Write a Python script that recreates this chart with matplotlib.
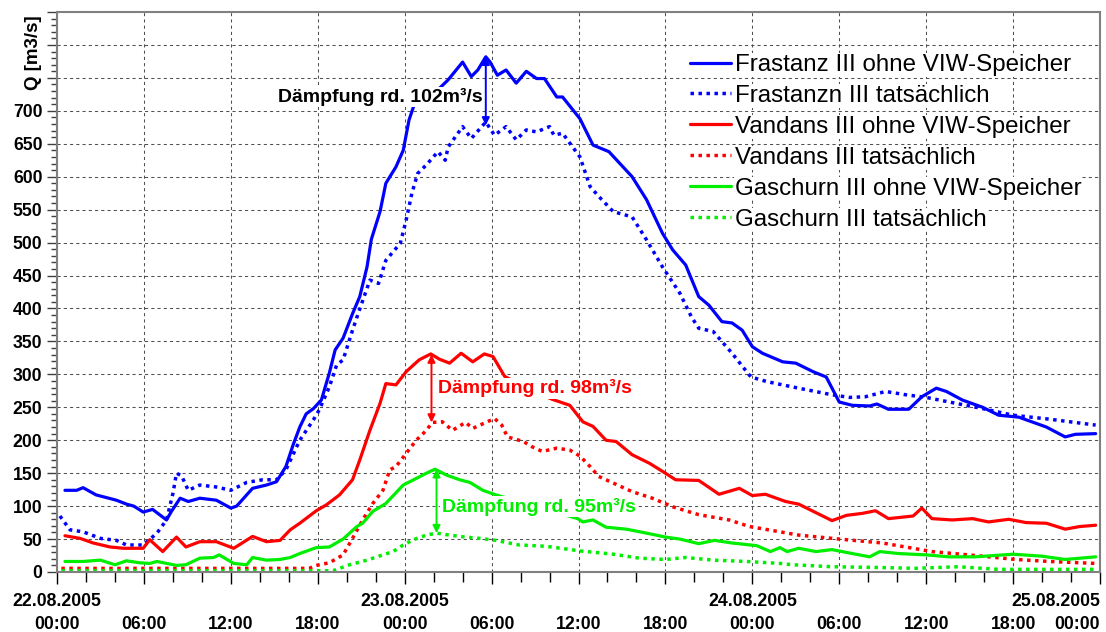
import matplotlib
matplotlib.use("Agg")
import matplotlib.pyplot as plt
from matplotlib.ticker import MultipleLocator, FuncFormatter

plt.rcParams['font.family'] = ['Liberation Sans', 'DejaVu Sans']

# ---------- data: hours since 22.08.2005 00:00, Q in m3/s ----------
FR_OHNE_H = [0.55, 1.36, 1.8, 2.7, 4.1, 4.8, 5.3, 5.95, 6.6, 7.56, 7.9, 8.5, 9.06, 9.86, 11.0,
             12.0, 12.4, 13.5, 14.46, 15.15, 15.8, 16.3, 16.76, 17.2, 17.7, 18.25, 18.8, 19.2,
             19.75, 20.4, 20.9, 21.4, 21.7, 22.3, 22.7, 23.4, 23.9, 24.3, 24.7, 25.3, 26.3, 27.0,
             28.0, 28.6, 29.05, 29.6, 29.9, 30.4, 31.0, 31.7, 32.4, 33.1, 33.65, 34.5, 34.9, 36.1,
             37.0, 38.1, 39.7, 40.7, 41.8, 42.5, 43.4, 44.3, 45.0, 45.9, 46.6, 47.3, 48.0, 48.7,
             50.1, 51.0, 52.2, 53.1, 54.0, 54.9, 56.1, 56.6, 57.4, 58.8, 59.7, 60.7, 61.4, 62.5,
             63.9, 65.0, 66.4, 68.3, 69.6, 70.3, 71.7]
FR_OHNE_Q = [124, 124, 128, 117, 109, 103, 100, 91, 95, 79, 92, 112, 107, 112, 109,
             97, 100, 127, 132, 137, 160, 193, 220, 240, 248, 261, 302, 337,
             355, 392, 418, 463, 505, 547, 590, 615, 640, 686, 712, 728, 732, 747,
             774, 752, 762, 782, 774, 754, 762, 742, 760, 749, 749, 721, 721, 688,
             648, 638, 600, 565, 514, 489, 466, 418, 405, 380, 378, 367, 342, 332,
             319, 317, 304, 296, 258, 253, 252, 255, 247, 247, 266, 279, 274, 261,
             250, 238, 235, 220, 205, 209, 210]

FR_TATS_H = [0.2, 0.9, 1.8, 3.0, 4.1, 4.8, 5.95, 6.9, 7.56, 8.0, 8.25, 8.6, 9.06, 9.86, 11.0,
             12.0, 13.1, 14.2, 15.15, 15.8, 16.76, 17.7, 18.1, 18.8, 19.3, 19.75, 20.4, 20.8,
             21.6, 22.2, 22.7, 23.7, 24.1, 24.5, 24.9, 25.5, 26.3, 26.8, 27.0, 28.0, 28.6, 29.6,
             30.2, 31.0, 31.7, 32.4, 33.1, 34.0, 34.3, 34.9, 36.1, 36.8, 37.4, 38.4, 39.7, 40.7,
             41.8, 43.0, 43.8, 44.3, 45.3, 46.6, 47.9, 49.0, 51.2, 53.5, 54.7, 55.8, 57.2, 58.6,
             60.0, 61.6, 63.9, 66.0, 68.5, 71.7]
FR_TATS_Q = [85, 64, 61, 51, 48, 41, 41, 59, 79, 119, 150, 146, 124, 132, 129,
             124, 136, 140, 140, 155, 200, 231, 246, 281, 314, 322, 367, 393,
             443, 438, 473, 499, 534, 575, 605, 618, 638, 625, 645, 676, 658, 683,
             663, 676, 656, 671, 668, 676, 663, 666, 630, 585, 570, 547, 539, 504,
             463, 423, 387, 370, 365, 332, 296, 289, 279, 269, 265, 266, 274, 269,
             265, 258, 248, 238, 232, 223]

VA_OHNE_H = [0.55, 1.6, 2.5, 3.66, 4.6, 5.95, 6.4, 7.3, 8.25, 8.9, 9.86, 11.0, 12.2, 13.5, 14.46,
             15.4, 16.1, 16.76, 17.9, 18.6, 19.5, 20.4, 20.9, 21.6, 22.3, 22.7, 23.4, 24.1, 25.0,
             25.8, 26.4, 27.1, 27.9, 28.7, 29.5, 30.1, 30.9, 32.5, 34.2, 35.4, 36.3, 37.0, 37.9,
             38.6, 39.7, 40.9, 42.0, 42.7, 44.3, 45.7, 47.1, 48.0, 48.9, 50.3, 51.2, 53.5, 54.5,
             55.6, 56.5, 57.4, 59.1, 59.7, 60.4, 61.8, 63.2, 64.3, 65.7, 66.9, 68.3, 69.6, 70.6,
             71.7]
VA_OHNE_Q = [55, 51, 44, 38, 36, 36, 49, 31, 53, 38, 46, 46, 36, 54, 46,
             48, 64, 74, 93, 102, 117, 140, 170, 215, 256, 286, 284, 304, 322,
             331, 323, 317, 332, 319, 331, 327, 297, 278, 262, 253, 228, 221, 200,
             198, 178, 165, 150, 140, 139, 118, 127, 116, 118, 107, 103, 78, 86,
             89, 93, 81, 85, 97, 81, 79, 81, 76, 80, 75, 74, 65, 69,
             71]

VA_TATS_H = [0.3, 17.4, 17.9, 18.8, 19.75, 20.4, 21.1, 21.8, 22.5, 22.97, 23.4, 24.1, 24.8, 25.5,
             25.9, 26.6, 27.3, 28.2, 28.7, 29.4, 30.2, 30.7, 31.1, 32.2, 32.8, 33.5, 34.5, 35.4,
             36.1, 36.8, 37.4, 38.4, 39.7, 41.1, 42.5, 44.3, 46.4, 47.8, 49.9, 51.2, 54.0, 57.0,
             60.4, 63.9, 66.2, 68.5, 71.7]
VA_TATS_Q = [5.5, 5.5, 10, 14, 26, 51, 79, 104, 124, 155, 160, 180, 200, 215,
             227, 228, 215, 227, 218, 225, 233, 223, 205, 198, 190, 183, 188, 185,
             176, 160, 145, 135, 122, 112, 99, 87, 79, 69, 61, 56, 50, 44,
             31, 24, 19, 16, 13]

GA_OHNE_H = [0.55, 1.8, 3.0, 4.0, 4.8, 5.7, 6.4, 6.9, 8.25, 8.9, 9.86, 10.8, 11.2, 12.2, 13.1,
             13.5, 14.46, 15.4, 16.1, 16.76, 17.9, 18.8, 19.75, 20.7, 21.1, 21.8, 22.7, 23.9, 24.8,
             25.5, 26.1, 26.9, 27.8, 28.5, 29.4, 30.3, 33.0, 35.95, 36.3, 37.0, 37.9, 39.3, 40.7,
             42.0, 43.0, 44.3, 45.4, 46.6, 48.3, 49.25, 49.9, 50.4, 51.2, 52.4, 53.5, 54.9, 56.1,
             56.8, 58.1, 60.0, 61.6, 63.4, 66.0, 68.0, 69.6, 71.7]
GA_OHNE_Q = [16, 16, 18, 11, 17, 14, 13, 16, 10, 11, 21, 22, 26, 13, 11,
             22, 18, 19, 22, 28, 37, 38, 50, 69, 74, 92, 104, 132, 142,
             150, 156, 147, 140, 136, 124, 117, 100, 81, 76, 79, 68, 65, 59,
             53, 50, 43, 48, 44, 40, 31, 37, 31, 36, 31, 34, 28, 23,
             31, 28, 26, 23, 23, 27, 24, 19, 23]

GA_TATS_H = [0.3, 19.06, 20.2, 21.4, 22.5, 23.2, 23.9, 24.6, 25.5, 26.2, 27.1, 28.2, 29.2, 30.3,
             31.9, 33.8, 36.1, 38.4, 40.2, 42.0, 43.4, 45.3, 47.6, 49.9, 50.8, 53.5, 56.3, 59.3,
             62.2, 65.0, 71.7]
GA_TATS_Q = [2, 2, 11, 18, 26, 31, 41, 49, 56, 59, 56, 53, 51, 48,
             41, 39, 32, 27, 21, 19, 22, 18, 16, 13, 11, 8, 7, 5.6,
             8, 4, 4]

LABELS = ["Frastanz III ohne VIW-Speicher", "Frastanzn III tatsächlich",
          "Vandans III ohne VIW-Speicher", "Vandans III tatsächlich",
          "Gaschurn III ohne VIW-Speicher", "Gaschurn III tatsächlich"]

DAYS = ["22.08.2005", "23.08.2005", "24.08.2005", "25.08.2005"]
HOURS = ["00:00", "06:00", "12:00", "18:00"]

BLUE, RED, GREEN = "#0000FF", "#FF0000", "#00EE00"
DOT = (0, (1, 1.3))

fig = plt.figure(figsize=(11.06, 6.32), dpi=100)
ax = fig.add_axes([57 / 1106, 60 / 632, 1043 / 1106, 560 / 632])

series = [
    (FR_OHNE_H, FR_OHNE_Q, BLUE, "-"),
    (FR_TATS_H, FR_TATS_Q, BLUE, DOT),
    (VA_OHNE_H, VA_OHNE_Q, RED, "-"),
    (VA_TATS_H, VA_TATS_Q, RED, DOT),
    (GA_OHNE_H, GA_OHNE_Q, GREEN, "-"),
    (GA_TATS_H, GA_TATS_Q, GREEN, DOT),
]
for (h, q, c, ls), lab in zip(series, LABELS):
    lw = 2.3 if ls == "-" else 2.5
    ax.plot(h, q, color=c, linestyle=ls, linewidth=lw, label=lab,
            dash_capstyle="butt", solid_capstyle="round")

ax.set_xlim(0, 72)
ax.set_ylim(0, 850)

# x ticks: times every 6 h (minor every 2 h), dates on a line above the times
ticks = list(range(0, 73, 6))
ax.set_xticks(ticks, labels=[HOURS[(t % 24) // 6] for t in ticks])
ax.xaxis.set_minor_locator(MultipleLocator(2))
ax.get_xticklabels()[-1].set_ha("right")
for i, day in enumerate(DAYS):
    ax.text(24 * i, -0.037, day, transform=ax.get_xaxis_transform(),
            ha="right" if i == len(DAYS) - 1 else "center", va="top",
            fontsize=12.7, fontweight="bold")

ax.yaxis.set_major_locator(MultipleLocator(50))
ax.yaxis.set_minor_locator(MultipleLocator(10))
ax.yaxis.set_major_formatter(FuncFormatter(lambda v, p: f"{v:.0f}" if v <= 700 else ""))

ax.tick_params(axis="x", which="major", length=8.4, width=1, color="black", pad=23,
               labelsize=12.7)
ax.tick_params(axis="x", which="minor", length=7, width=1, color="black")
ax.tick_params(axis="y", which="major", length=7, width=1, color="#404040", pad=3.5,
               labelsize=12.7)
ax.tick_params(axis="y", which="minor", length=4.5, width=1, color="#404040")
for lbl in ax.get_xticklabels() + ax.get_yticklabels():
    lbl.set_fontweight("bold")

ax.grid(which="major", color="#505050", linestyle=(0, (3, 3)), linewidth=0.75)
ax.set_axisbelow(True)
for sp in ax.spines.values():
    sp.set_color("#808080")
    sp.set_linewidth(1.5)

fig.text(33 / 1106, 1 - 53 / 632, "Q [m3/s]", rotation=90, fontweight="bold",
         fontsize=13.5, ha="center", va="center")

# damping annotations
arrow_kw = dict(arrowstyle="<|-|>", lw=1.4, mutation_scale=11, shrinkA=0, shrinkB=0)
ax.annotate("", xy=(29.6, 782), xytext=(29.6, 678), arrowprops=dict(color=BLUE, **arrow_kw))
ax.annotate("", xy=(25.85, 330), xytext=(25.85, 227), arrowprops=dict(color=RED, **arrow_kw))
ax.annotate("", xy=(26.2, 156), xytext=(26.2, 59), arrowprops=dict(color=GREEN, **arrow_kw))

box = dict(facecolor="white", edgecolor="none", pad=1)
ax.text(29.35, 721, "Dämpfung rd. 102m³/s", color="black", fontweight="bold", fontsize=14,
        ha="right", va="center", bbox=box)
ax.text(26.3, 279, "Dämpfung rd. 98m³/s", color=RED, fontweight="bold", fontsize=14,
        ha="left", va="center", bbox=box)
ax.text(26.55, 99, "Dämpfung rd. 95m³/s", color=GREEN, fontweight="bold", fontsize=14,
        ha="left", va="center", bbox=box)

leg = ax.legend(loc="upper left", bbox_to_anchor=(0.607, 0.925), frameon=False, fontsize=17.4,
                handlelength=1.7, handletextpad=0.15, labelspacing=0.37, borderpad=0,
                borderaxespad=0)
for t in leg.get_texts():
    t.set_bbox(dict(facecolor="white", edgecolor="none", pad=0.5))

fig.savefig("out.png", dpi=100)
